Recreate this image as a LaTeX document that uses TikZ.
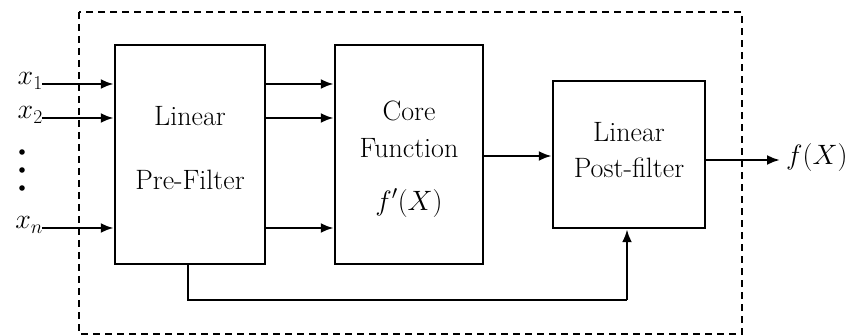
\documentclass[tikz,border=0pt]{standalone}
\usepackage{fix-cm}
\usetikzlibrary{arrows.meta}
\begin{document}
\begin{tikzpicture}[x=1pt,y=-1pt,
  blk/.style={draw,line width=2.5pt,minimum width=#1,inner sep=0pt},
  lbl/.style={font=\fontsize{28}{34}\selectfont,align=center},
  sig/.style={line width=2.5pt,-{Latex[length=13pt,width=10pt]}},
  wire/.style={line width=2.5pt}]
\useasboundingbox (0,0) rectangle (858,336);
% enclosing dashed boundary
\draw[line width=2.4pt,dash pattern=on 7pt off 5pt] (79,12) rectangle (742,334);
% blocks
\node[blk=150pt,minimum height=219pt] (pre) at (190,154.5) {};
\node[blk=148pt,minimum height=219pt] (core) at (409,154.5) {};
\node[blk=152pt,minimum height=147pt] (post) at (629,154.5) {};
% block texts
\node[lbl] (preA) at (190,116) {Linear};
\node[lbl] (preB) at (190,180) {Pre-Filter};
\node[lbl] (coreA) at (409,111) {Core};
\node[lbl] (coreB) at (409,148) {Function};
\node[lbl] (coreC) at (409,203) {$f'(X)$};
\node[lbl] (postA) at (629,132) {Linear};
\node[lbl] (postB) at (629,168) {Post-filter};
% inputs
\coordinate (i1) at (42,84);
\coordinate (i2) at (42,118);
\coordinate (in) at (42,228);
\node[lbl,anchor=east,inner sep=0pt] (x1) at (43,81) {$x_1$};
\node[lbl,anchor=east,inner sep=0pt] (x2) at (43,115) {$x_2$};
\node[lbl,anchor=east,inner sep=0pt] (xn) at (43,225) {$x_n$};
\foreach \yy in {152,170,188} \fill (22,\yy) circle (2.8pt);
\draw[sig] (i1) -- (i1 -| pre.west);
\draw[sig] (i2) -- (i2 -| pre.west);
\draw[sig] (in) -- (in -| pre.west);
% pre-filter to core
\draw[sig] (pre.east |- i1) -- (core.west |- i1);
\draw[sig] (pre.east |- i2) -- (core.west |- i2);
\draw[sig] (pre.east |- in) -- (core.west |- in);
% core to post
\coordinate (m) at (0,156);
\draw[sig] (core.east |- m) -- (post.west |- m);
% output
\coordinate (o) at (0,160);
\node[lbl,anchor=west,inner sep=0pt] (fx) at (786,158) {$f(X)$};
\draw[sig] (post.east |- o) -- ([xshift=-6pt]fx.west |- o);
% bypass path
\coordinate (fb) at (188,300);
\draw[wire] (pre.south -| fb) -- (fb) -- (fb -| 627,0);
\draw[sig] (fb -| 627,0) -- (post.south -| 627,0);
\end{tikzpicture}
\end{document}
